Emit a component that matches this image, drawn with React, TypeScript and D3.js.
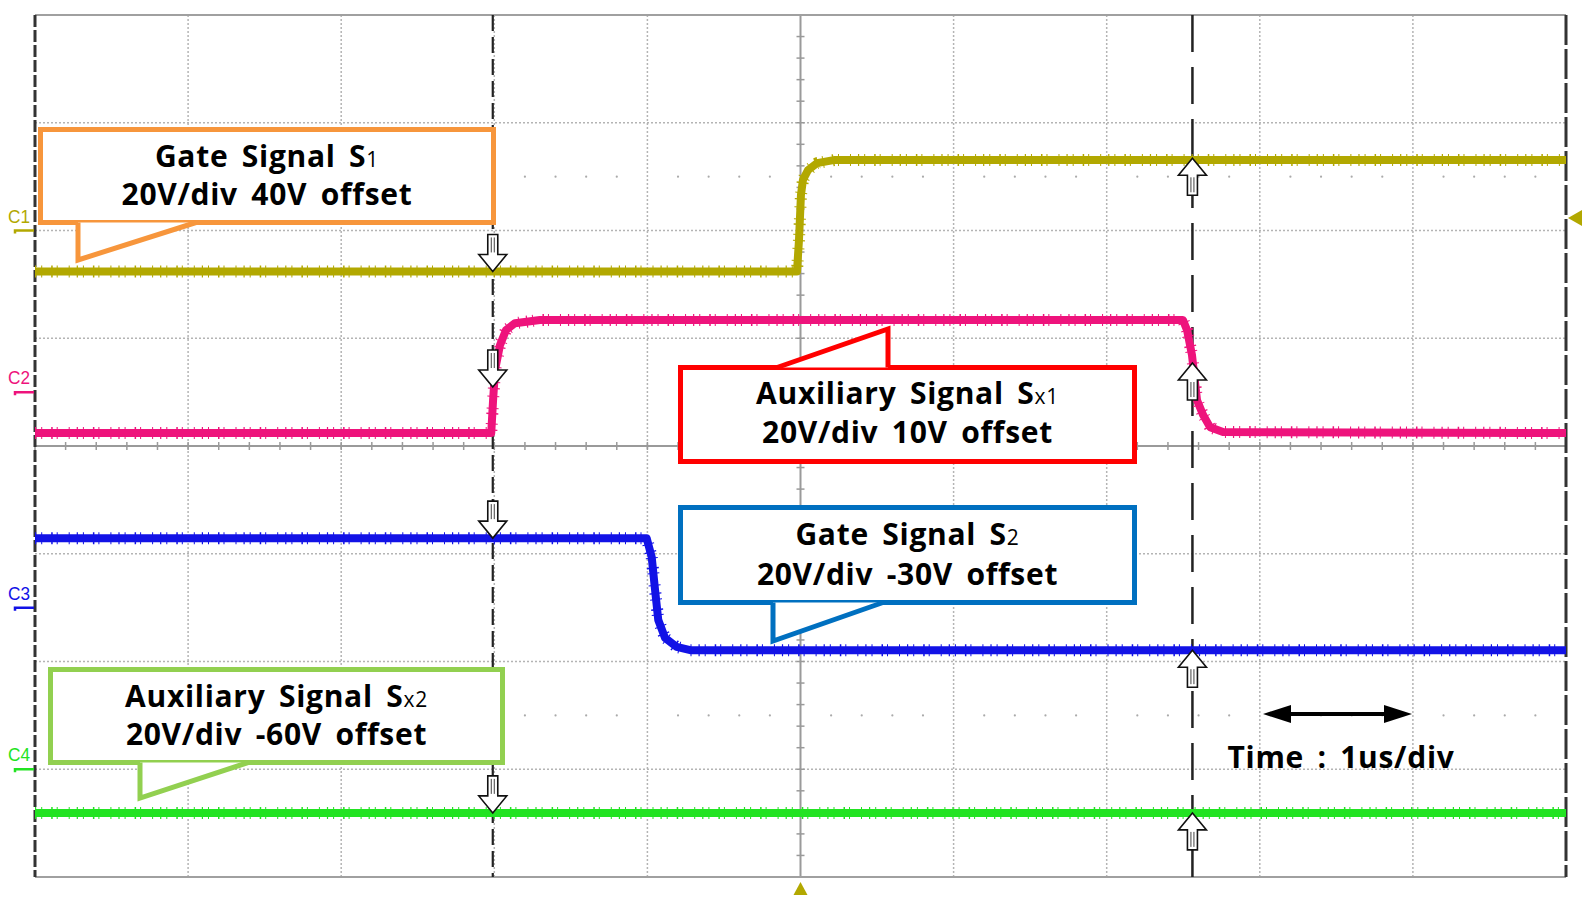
import React from "react";
import * as d3 from "d3";

// ---- data (time in µs, voltage in V) ----
const xDivs = [-5, -4, -3, -2, -1, 0, 1, 2, 3, 4, 5];
const yDivs = [-4, -3, -2, -1, 0, 1, 2, 3, 4];
const voltsPerDiv = 20;

const channelNames = ["C1", "C2", "C3", "C4"];
const channelOffsets = [40, 10, -30, -60];
const channelColors = ["#B2A800", "#EE137C", "#1212E6", "#22E322"];

const c1Points: [number, number][] = [
  [-5, -7.6], [-0.023, -7.6], [-0.01, -1.8], [0.003, 6.6], [0.016, 9.4],
  [0.049, 11.2], [0.108, 12.5], [0.225, 13.1], [5, 13.1],
];
const c2Points: [number, number][] = [
  [-5, -7.6], [-2.02, -7.6], [-2.008, -1.5], [-1.995, 4.1], [-1.963, 8.7],
  [-1.924, 11.5], [-1.865, 12.8], [-1.702, 13.4], [2.498, 13.4], [2.525, 11.5],
  [2.557, 6.9], [2.59, -1.5], [2.629, -4.2], [2.675, -6.5], [2.76, -7.4], [5, -7.6],
];
const c3Points: [number, number][] = [
  [-5, 12.9], [-1.005, 12.9], [-0.972, 9.4], [-0.95, 3.3], [-0.929, -2.3],
  [-0.885, -5.6], [-0.809, -7.3], [-0.72, -7.9], [5, -7.9],
];
const c4Points: [number, number][] = [[-5, -8.1], [5, -8.1]];
const traces = [c1Points, c2Points, c3Points, c4Points];

const cursorTimes = [-2.01, 2.56];
const arrowChannels = [0, 1, 2, 3, 0, 1, 2, 3];
const arrowCursor = [0, 0, 0, 0, 1, 1, 1, 1];
const arrowVolts = [-7.6, 0.95, 12.9, -8.1, 13.4, 5.4, -7.9, -8.1];
const arrowDirs = ["down", "down", "down", "down", "up", "up", "up", "up"];
const triggerLevelV = 2.3;
const triggerTime = 0;

const W = 1587, H = 903;
const x = d3.scaleLinear().domain([-5, 5]).range([35, 1566]);
const y = d3.scaleLinear().domain([-4, 4]).range([877, 15]);
const chY = (ch: number, v: number) => y((v + channelOffsets[ch]) / voltsPerDiv);

const FONT = "'Open Sans', 'Noto Sans', sans-serif";
const FS = 30;
const LS = 0.7;
const WS = 5;

function Arrow({ cx, ty, dir }: { cx: number; ty: number; dir: string }) {
  const s = dir === "down" ? -1 : 1;
  const hb = ty + s * 17;
  const sb = ty + s * 37;
  const pts = [
    [cx, ty], [cx - 14, hb], [cx - 5, hb], [cx - 5, sb], [cx + 5, sb], [cx + 5, hb], [cx + 14, hb],
  ];
  return (
    <g>
      <polygon points={pts.map((p) => p.join(",")).join(" ")} fill="#fff" stroke="#111" strokeWidth={1.6} strokeLinejoin="miter" />
      <line x1={cx - 1.5} x2={cx - 1.5} y1={hb + s * 2} y2={sb - s * 3} stroke="#111" strokeWidth={0.8} />
      <line x1={cx + 1.5} x2={cx + 1.5} y1={hb + s * 2} y2={sb - s * 3} stroke="#111" strokeWidth={0.8} />
    </g>
  );
}

function Callout({
  x0, y0, x1, y1, color, tail, l1, sub, l2, b1, b2,
}: {
  x0: number; y0: number; x1: number; y1: number; color: string; tail: number[][];
  l1: string; sub: string; l2: string; b1: number; b2: number;
}) {
  const cx = (x0 + x1) / 2;
  return (
    <g>
      <rect x={x0} y={y0} width={x1 - x0} height={y1 - y0} fill="#fff" stroke={color} strokeWidth={5} />
      <polygon points={tail.map((p) => p.join(",")).join(" ")} fill="#fff" stroke="none" />
      <polyline points={tail.map((p) => p.join(",")).join(" ")} fill="none" stroke={color} strokeWidth={5} strokeLinejoin="miter" />
      <text x={cx} y={b1} textAnchor="middle" fontFamily={FONT} fontWeight={700} fontSize={FS} fill="#000" letterSpacing={LS} wordSpacing={WS}>
        {l1}
        <tspan fontSize={21} fontWeight={500}>{sub}</tspan>
      </text>
      <text x={cx} y={b2} textAnchor="middle" fontFamily={FONT} fontWeight={700} fontSize={FS} fill="#000" letterSpacing={LS} wordSpacing={WS}>
        {l2}
      </text>
    </g>
  );
}

export default function App() {
  const line = d3.line<[number, number]>();
  const minorTicks = d3.range(-25, 26).map((i) => i / 5);
  const minorTicksY = d3.range(-20, 21).map((i) => i / 5);
  const dotXs = minorTicks.filter((t) => Math.abs(t * 5 - Math.round(t) * 5) > 0.01);

  return (
    <div style={{ position: "absolute", left: 0, top: 0 }}>
      <svg width={W} height={H} style={{ display: "block", background: "#fff" }}>
        {/* grid */}
        {xDivs.slice(1, -1).filter((d) => d !== 0).map((d) => (
          <line key={"gx" + d} x1={x(d)} x2={x(d)} y1={y(4)} y2={y(-4)} stroke="#b4b4b4" strokeWidth={1.5} strokeDasharray="2 2" />
        ))}
        {yDivs.slice(1, -1).filter((d) => d !== 0).map((d) => (
          <line key={"gy" + d} x1={x(-5)} x2={x(5)} y1={y(d)} y2={y(d)} stroke="#b4b4b4" strokeWidth={1.5} strokeDasharray="2 2" />
        ))}
        {[2.5, -2.5].map((r) =>
          dotXs.map((t) => (
            <circle key={"dot" + r + t} cx={x(t)} cy={y(r)} r={1.1} fill="#aaa" />
          ))
        )}
        {/* center axes */}
        <line x1={x(-5)} x2={x(5)} y1={y(0)} y2={y(0)} stroke="#9a9a9a" strokeWidth={2} />
        <line x1={x(0)} x2={x(0)} y1={y(4)} y2={y(-4)} stroke="#9a9a9a" strokeWidth={2} />
        {minorTicks.map((t) => (
          <line key={"tx" + t} x1={x(t)} x2={x(t)} y1={y(0) - 4} y2={y(0) + 4} stroke="#9a9a9a" strokeWidth={1.5} />
        ))}
        {minorTicksY.map((t) => (
          <line key={"ty" + t} x1={x(0) - 4} x2={x(0) + 4} y1={y(t)} y2={y(t)} stroke="#9a9a9a" strokeWidth={1.5} />
        ))}
        {/* border */}
        <line x1={x(-5)} x2={x(5)} y1={y(4)} y2={y(4)} stroke="#a0a0a0" strokeWidth={2} />
        <line x1={x(-5)} x2={x(5)} y1={y(-4)} y2={y(-4)} stroke="#a0a0a0" strokeWidth={2} />
        <line x1={x(-5)} x2={x(-5)} y1={y(4)} y2={y(-4)} stroke="#333" strokeWidth={3} strokeDasharray="12 3" />
        <line x1={x(5)} x2={x(5)} y1={y(4)} y2={y(-4)} stroke="#333" strokeWidth={3} strokeDasharray="30 4" />
        {/* cursors */}
        <line x1={x(cursorTimes[0])} x2={x(cursorTimes[0])} y1={y(4)} y2={y(-4)} stroke="#222" strokeWidth={2.2} strokeDasharray="16 6" />
        <line x1={x(cursorTimes[1])} x2={x(cursorTimes[1])} y1={y(4)} y2={y(-4)} stroke="#222" strokeWidth={2.5} strokeDasharray="37 15" />
        {/* traces */}
        {traces.map((pts, ch) => {
          const d = line(pts.map(([t, v]) => [x(t), chY(ch, v)] as [number, number])) || "";
          return (
            <g key={"tr" + ch}>
              <path d={d} fill="none" stroke={channelColors[ch]} strokeWidth={12} strokeDasharray="1.2 5 1 9 1.5 4 1 11 1 7" strokeLinejoin="round" />
              <path d={d} fill="none" stroke={channelColors[ch]} strokeWidth={8} strokeLinejoin="round" />
            </g>
          );
        })}
        {/* cursor arrows */}
        {arrowChannels.map((ch, i) => (
          <Arrow key={"ar" + i} cx={x(cursorTimes[arrowCursor[i]])} ty={chY(ch, arrowVolts[i])} dir={arrowDirs[i]} />
        ))}
        {/* trigger markers */}
        <polygon points={`${x(triggerTime)},${y(-4) + 5} ${x(triggerTime) - 7},${y(-4) + 18} ${x(triggerTime) + 7},${y(-4) + 18}`} fill={channelColors[0]} />
        <polygon points={`${x(5) + 2},${chY(0, triggerLevelV)} ${x(5) + 16},${chY(0, triggerLevelV) - 8} ${x(5) + 16},${chY(0, triggerLevelV) + 8}`} fill={channelColors[0]} />
        {/* channel labels */}
        {channelNames.map((n, ch) => {
          const gy = chY(ch, 0);
          return (
            <g key={n}>
              <text x={8} y={gy - 8} fontFamily="'Liberation Sans', Arial, sans-serif" fontSize={19} fill={channelColors[ch]} textLength={22} lengthAdjust="spacingAndGlyphs">{n}</text>
              <path d={`M15,${gy + 3} L15,${gy} L34,${gy}`} fill="none" stroke={channelColors[ch]} strokeWidth={2.5} />
            </g>
          );
        })}
        {/* callouts */}
        <Callout x0={40.5} y0={129.5} x1={493.5} y1={222.5} color="#F7963C"
          tail={[[78, 222.5], [78, 260], [196, 222.5]]}
          l1="Gate Signal S" sub="1" l2="20V/div 40V offset" b1={167} b2={205} />
        <Callout x0={680.5} y0={367.5} x1={1134.5} y1={461.5} color="#FF0000"
          tail={[[777, 367.5], [888, 329], [888, 367.5]]}
          l1="Auxiliary Signal S" sub="x1" l2="20V/div 10V offset" b1={404} b2={443} />
        <Callout x0={680.5} y0={507.5} x1={1134.5} y1={602.5} color="#0070C0"
          tail={[[773, 602.5], [773, 641], [883, 602.5]]}
          l1="Gate Signal S" sub="2" l2="20V/div -30V offset" b1={545} b2={585} />
        <Callout x0={50.5} y0={669.5} x1={502.5} y1={762.5} color="#92D050"
          tail={[[140, 762.5], [140, 798], [248, 762.5]]}
          l1="Auxiliary Signal S" sub="x2" l2="20V/div -60V offset" b1={707} b2={745} />
        {/* time scale */}
        <line x1={1285} x2={1390} y1={714} y2={714} stroke="#000" strokeWidth={4} />
        <polygon points="1263,714 1291,705 1291,723" fill="#000" />
        <polygon points="1412,714 1384,705 1384,723" fill="#000" />
        <text x={1341} y={768} textAnchor="middle" fontFamily={FONT} fontWeight={700} fontSize={FS} fill="#000" letterSpacing={LS} wordSpacing={WS}>Time : 1us/div</text>
      </svg>
    </div>
  );
}
